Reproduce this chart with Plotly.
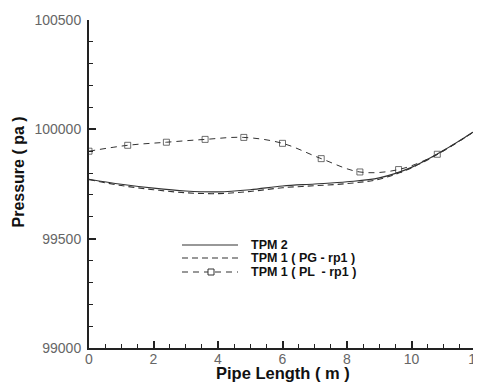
import plotly.graph_objects as go

# ---- data ----
x_tpm2 = [0, 1, 2, 3, 4, 5, 6, 7, 8, 9, 10, 11, 12]
tpm2 = [99772, 99749, 99731, 99718, 99714, 99724, 99741, 99750, 99760, 99778, 99826, 99904, 99996]

x_pg = [0, 1, 2, 3, 4, 5, 6, 7, 8, 9, 10, 11, 12]
pg = [99770, 99743, 99724, 99710, 99706, 99716, 99733, 99742, 99752, 99772, 99824, 99903, 99996]

x_pl = [0, 1.2, 2.4, 3.6, 4.8, 6.0, 7.2, 8.4, 9.6, 10.8, 12]
pl = [99900, 99927, 99941, 99954, 99963, 99936, 99866, 99805, 99816, 99886, 99996]

names = ["TPM 2", "TPM 1 ( PG - rp1 )", "TPM 1 ( PL  - rp1 )"]
x_ticks = [0, 2, 4, 6, 8, 10, 12]
y_ticks = [99000, 99500, 100000, 100500]
x_title = "Pipe Length ( m )"
y_title = "Pressure ( pa )"

LINE = "#333333"
FONT = "Liberation Sans, Arial"

fig = go.Figure()
fig.add_trace(go.Scatter(x=x_tpm2, y=tpm2, mode="lines", line_shape="spline",
                         line=dict(color=LINE, width=1.1), name=names[0], showlegend=False))
fig.add_trace(go.Scatter(x=x_pg, y=pg, mode="lines", line_shape="spline",
                         line=dict(color=LINE, width=1.1, dash="6px,4px"), name=names[1], showlegend=False))
fig.add_trace(go.Scatter(x=x_pl, y=pl, mode="lines+markers", line_shape="spline",
                         line=dict(color=LINE, width=1, dash="6px,5px"),
                         marker=dict(symbol="square-open", size=[6] * (len(x_pl) - 1) + [0],
                                     color=LINE, line=dict(width=1)),
                         name=names[2], showlegend=False))

# page is rendered with an 8px body margin: work in page pixels, convert to figure pixels
OFF = 8
W, H = 481 - OFF, 383 - OFF
ml, mr, mt, mb = 89 - OFF, 5, 20 - OFF, 35
pw, ph = W - ml - mr, H - mt - mb

def px(xp):
    return (xp - OFF - ml) / pw

def py(yp):
    return 1 - (yp - OFF - mt) / ph

# ---- manual legend ----
rows = [245, 258, 272]
dashes = ["solid", "6px,4px", "6px,5px"]
for r, d, n in zip(rows, dashes, names):
    fig.add_shape(type="line", xref="paper", yref="paper",
                  x0=px(182), x1=px(238), y0=py(r), y1=py(r),
                  line=dict(color=LINE, width=1.1, dash=d))
    fig.add_annotation(xref="paper", yref="paper", x=px(249), y=py(r),
                       text="<b>" + n + "</b>", showarrow=False, xanchor="left", yanchor="middle",
                       font=dict(family=FONT, size=12.5, color="#111111"))
    if n == names[2]:
        fig.add_shape(type="rect", xref="paper", yref="paper",
                      x0=px(208), x1=px(214), y0=py(r + 3), y1=py(r - 3),
                      line=dict(color=LINE, width=1), fillcolor="white")

# ---- axis titles ----
fig.add_annotation(xref="paper", yref="paper", x=px(282.5), y=py(373),
                   text="<b>" + x_title + "</b>", showarrow=False,
                   xanchor="center", yanchor="middle",
                   font=dict(family=FONT, size=16.5, color="#111111"))
fig.add_annotation(xref="paper", yref="paper", x=px(18), y=py(172.5),
                   text="<b>" + y_title + "</b>", showarrow=False, textangle=-90,
                   xanchor="center", yanchor="middle",
                   font=dict(family=FONT, size=16, color="#111111"))

fig.update_layout(
    width=W, height=H,
    margin=dict(l=ml, r=mr, t=mt, b=mb, autoexpand=False),
    paper_bgcolor="white", plot_bgcolor="white",
    font=dict(family=FONT, size=14, color="#666666"),
    showlegend=False,
)
fig.update_xaxes(
    range=[0, 12], tickvals=x_ticks, ticktext=[str(v) for v in x_ticks],
    automargin=False, ticklabeloverflow="allow", ticklabelstandoff=-3,
    showgrid=False, zeroline=False, showline=True, linecolor="#222222", linewidth=2,
    ticks="inside", ticklen=7, tickwidth=2, tickcolor="#222222",
    minor=dict(dtick=0.5, ticks="inside", ticklen=4, tickwidth=1, tickcolor="#222222", showgrid=False),
    tickfont=dict(family=FONT, size=14, color="#666666"),
)
fig.update_yaxes(
    range=[99000, 100500], tickvals=y_ticks, ticktext=[str(v) for v in y_ticks],
    automargin=False, ticklabelstandoff=3,
    showgrid=False, zeroline=False, showline=True, linecolor="#222222", linewidth=2,
    ticks="inside", ticklen=7, tickwidth=2, tickcolor="#222222",
    minor=dict(dtick=100, ticks="inside", ticklen=4, tickwidth=1, tickcolor="#222222", showgrid=False),
    tickfont=dict(family=FONT, size=14, color="#666666"),
)

fig.write_html("out.html")
